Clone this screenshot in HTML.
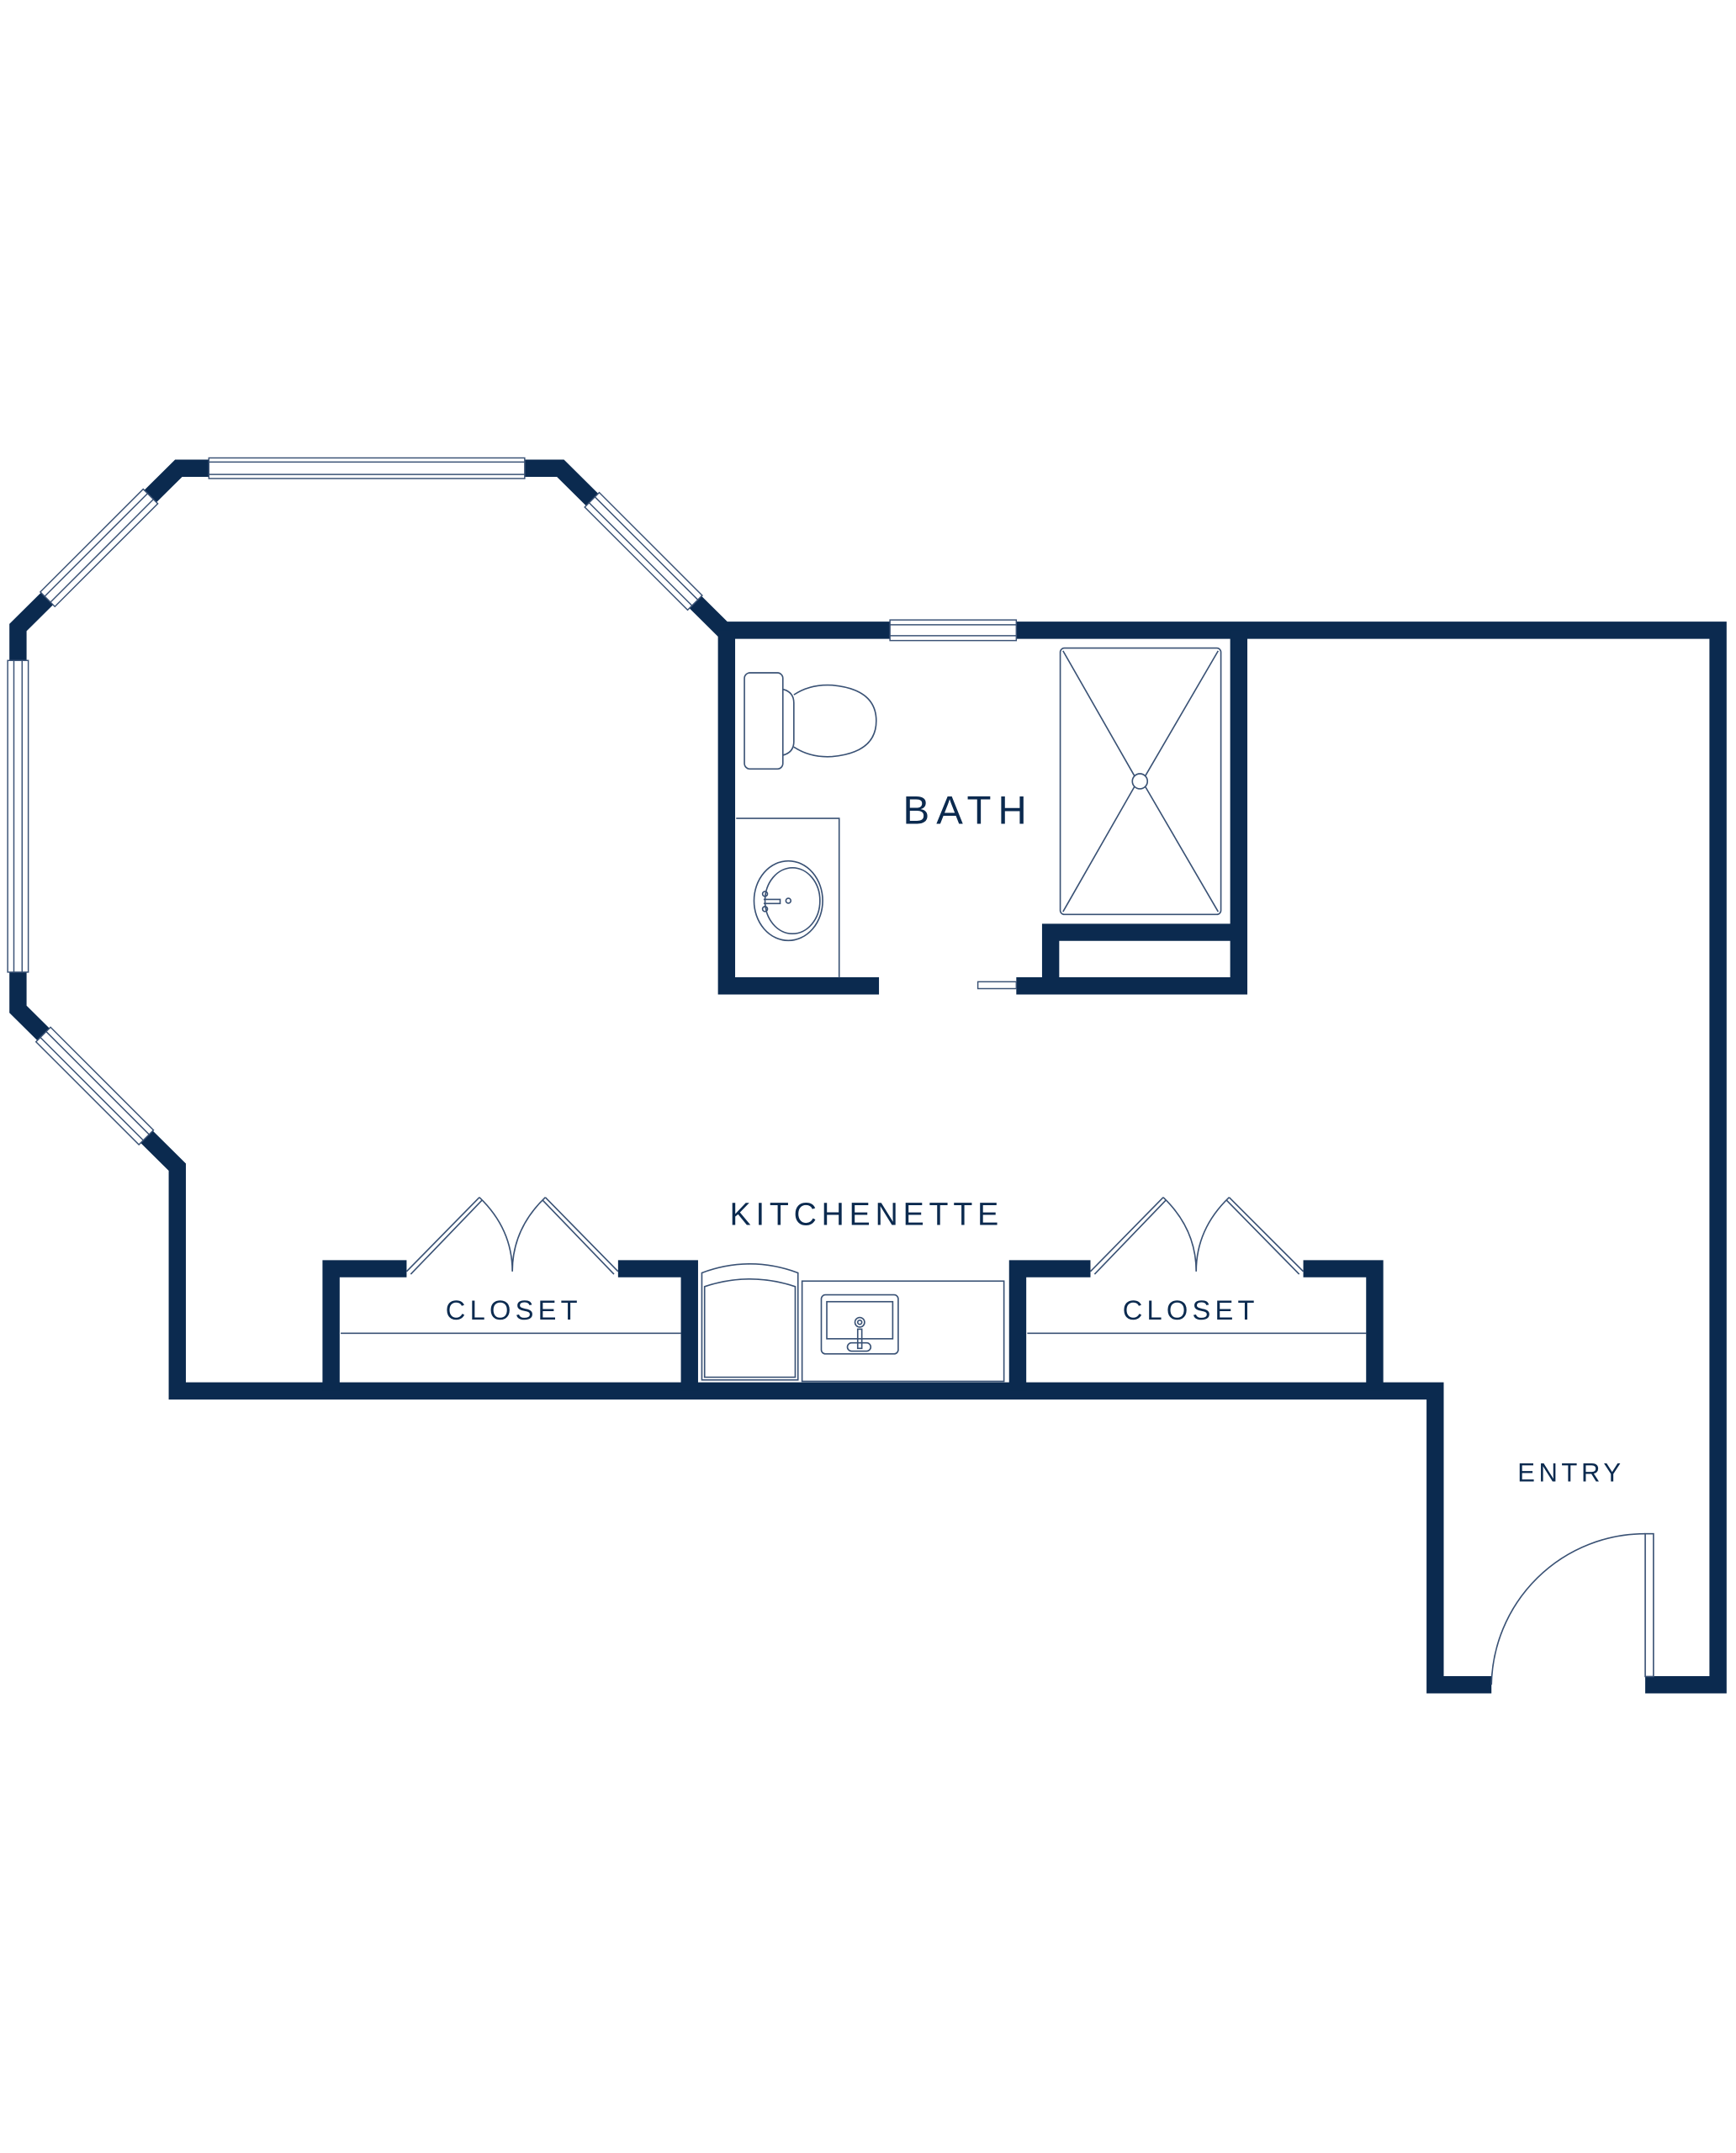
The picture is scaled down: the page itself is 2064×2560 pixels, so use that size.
<!DOCTYPE html>
<html><head><meta charset="utf-8"><style>html,body{margin:0;padding:0;background:#fff}svg{display:block}</style></head>
<body>
<svg width="2064" height="2560" viewBox="0 0 1264 1568" xmlns="http://www.w3.org/2000/svg">
<g fill="none" stroke="#0b2a4f" stroke-width="12.5" stroke-linejoin="miter" stroke-linecap="butt">
<path d="M1086,1227 L1045,1227 L1045,1013 L129,1013 L129,850 L13,735 L13,457 L130,341 L408,341 L527,459 L1251,459 L1251,1227 L1198,1227"/>
<path d="M640,718 L529,718 L529,459 M740,718 L902,718 L902,459 M765,718 L765,679 L902,679"/>
<path d="M296,924 L241,924 L241,1013 M450,924 L502,924 L502,1013 M794,924 L741,924 L741,1013 M949,924 L1001,924 L1001,1013"/>
</g>
<g fill="#fff" stroke="#3a5275" stroke-width="0.9">
<g transform="translate(152,341)"><rect x="0" y="-7.5" width="230" height="15"/><line x1="0" y1="-4.5" x2="230" y2="-4.5"/><line x1="0" y1="4.5" x2="230" y2="4.5"/></g>
<g transform="translate(109.5,361.5) rotate(135)"><rect x="0" y="-7.5" width="106" height="15"/><line x1="0" y1="-3" x2="106" y2="-3"/><line x1="0" y1="3" x2="106" y2="3"/></g>
<g transform="translate(431,364) rotate(45)"><rect x="0" y="-7.5" width="106" height="15"/><line x1="0" y1="-3" x2="106" y2="-3"/><line x1="0" y1="3" x2="106" y2="3"/></g>
<g transform="translate(31.4,753.4) rotate(45)"><rect x="0" y="-7.5" width="106" height="15"/><line x1="0" y1="-3" x2="106" y2="-3"/><line x1="0" y1="3" x2="106" y2="3"/></g>
<g transform="translate(13,481) rotate(90)"><rect x="0" y="-7.5" width="227" height="15"/><line x1="0" y1="-3" x2="227" y2="-3"/><line x1="0" y1="3" x2="227" y2="3"/></g>
<g transform="translate(648,459)"><rect x="0" y="-7.5" width="92" height="15"/><line x1="0" y1="-4" x2="92" y2="-4"/><line x1="0" y1="4" x2="92" y2="4"/></g>
<rect x="712" y="715" width="28" height="5"/>
</g>
<g fill="none" stroke="#3a5275" stroke-width="1">
<rect x="542" y="490" width="28" height="70" rx="4"/>
<path d="M570,502 Q578,504 578,512 L578,540 Q578,548 570,550"/>
<path d="M578,506 Q590,498 606,499 Q638,502 638,525 Q638,548 606,551 Q590,552 578,544"/>
<path d="M536,596 L611,596 L611,712"/>
<ellipse cx="574" cy="656" rx="25" ry="29"/>
<ellipse cx="577" cy="656" rx="20" ry="24"/>
<circle cx="557" cy="651" r="1.8"/><circle cx="557" cy="662" r="1.8"/><circle cx="574" cy="656" r="1.8"/>
<path d="M556,655 L568,655 L568,658 L556,658"/>
<rect x="772" y="472" width="117" height="194" rx="3"/>
<line x1="774" y1="474" x2="826" y2="565"/><line x1="887" y1="474" x2="834" y2="565"/>
<line x1="774" y1="664" x2="826" y2="573"/><line x1="887" y1="664" x2="834" y2="573"/>
<circle cx="830" cy="569" r="5.5"/>
<line x1="248" y1="971" x2="496" y2="971"/>
<line x1="748" y1="971" x2="995" y2="971"/>
<path d="M296,926 L349,872 M299,928 L351,874"/>
<path d="M349,872 Q373,895 373,926 Q373,895 397,872"/>
<path d="M450,926 L397,872 M447,928 L395,874"/>
<path d="M794,926 L847,872 M797,928 L849,874"/>
<path d="M847,872 Q871,895 871,926 Q871,895 895,872"/>
<path d="M949,926 L895,872 M946,928 L893,874"/>
<path d="M511,1005 L511,927 Q546,914 581,927 L581,1005 Z"/>
<path d="M513,1003 L513,937 Q546,926 579,937 L579,1003 Z"/>
<rect x="584" y="933" width="147" height="73"/>
<rect x="598" y="943" width="56" height="43" rx="3"/>
<rect x="602" y="948" width="48" height="27"/>
<circle cx="626" cy="963" r="3.5"/><circle cx="626" cy="963" r="1.5"/>
<rect x="624.5" y="968" width="3" height="14"/>
<rect x="617" y="978" width="17" height="6" rx="3"/>
<path d="M1086,1227 A112,112 0 0 1 1198,1117"/>
<rect x="1198" y="1117" width="6" height="104"/>
</g>
<g fill="#0b2a4f" font-family="Liberation Sans, sans-serif" text-anchor="middle">
<text x="705" y="600" font-size="29" letter-spacing="5">BATH</text>
<text x="631" y="892" font-size="23" letter-spacing="3.6">KITCHENETTE</text>
<text x="374" y="961" font-size="20" letter-spacing="3.2">CLOSET</text>
<text x="867" y="961" font-size="20" letter-spacing="3.2">CLOSET</text>
<text x="1144" y="1079" font-size="19" letter-spacing="2.8">ENTRY</text>
</g>
</svg>
</body></html>
